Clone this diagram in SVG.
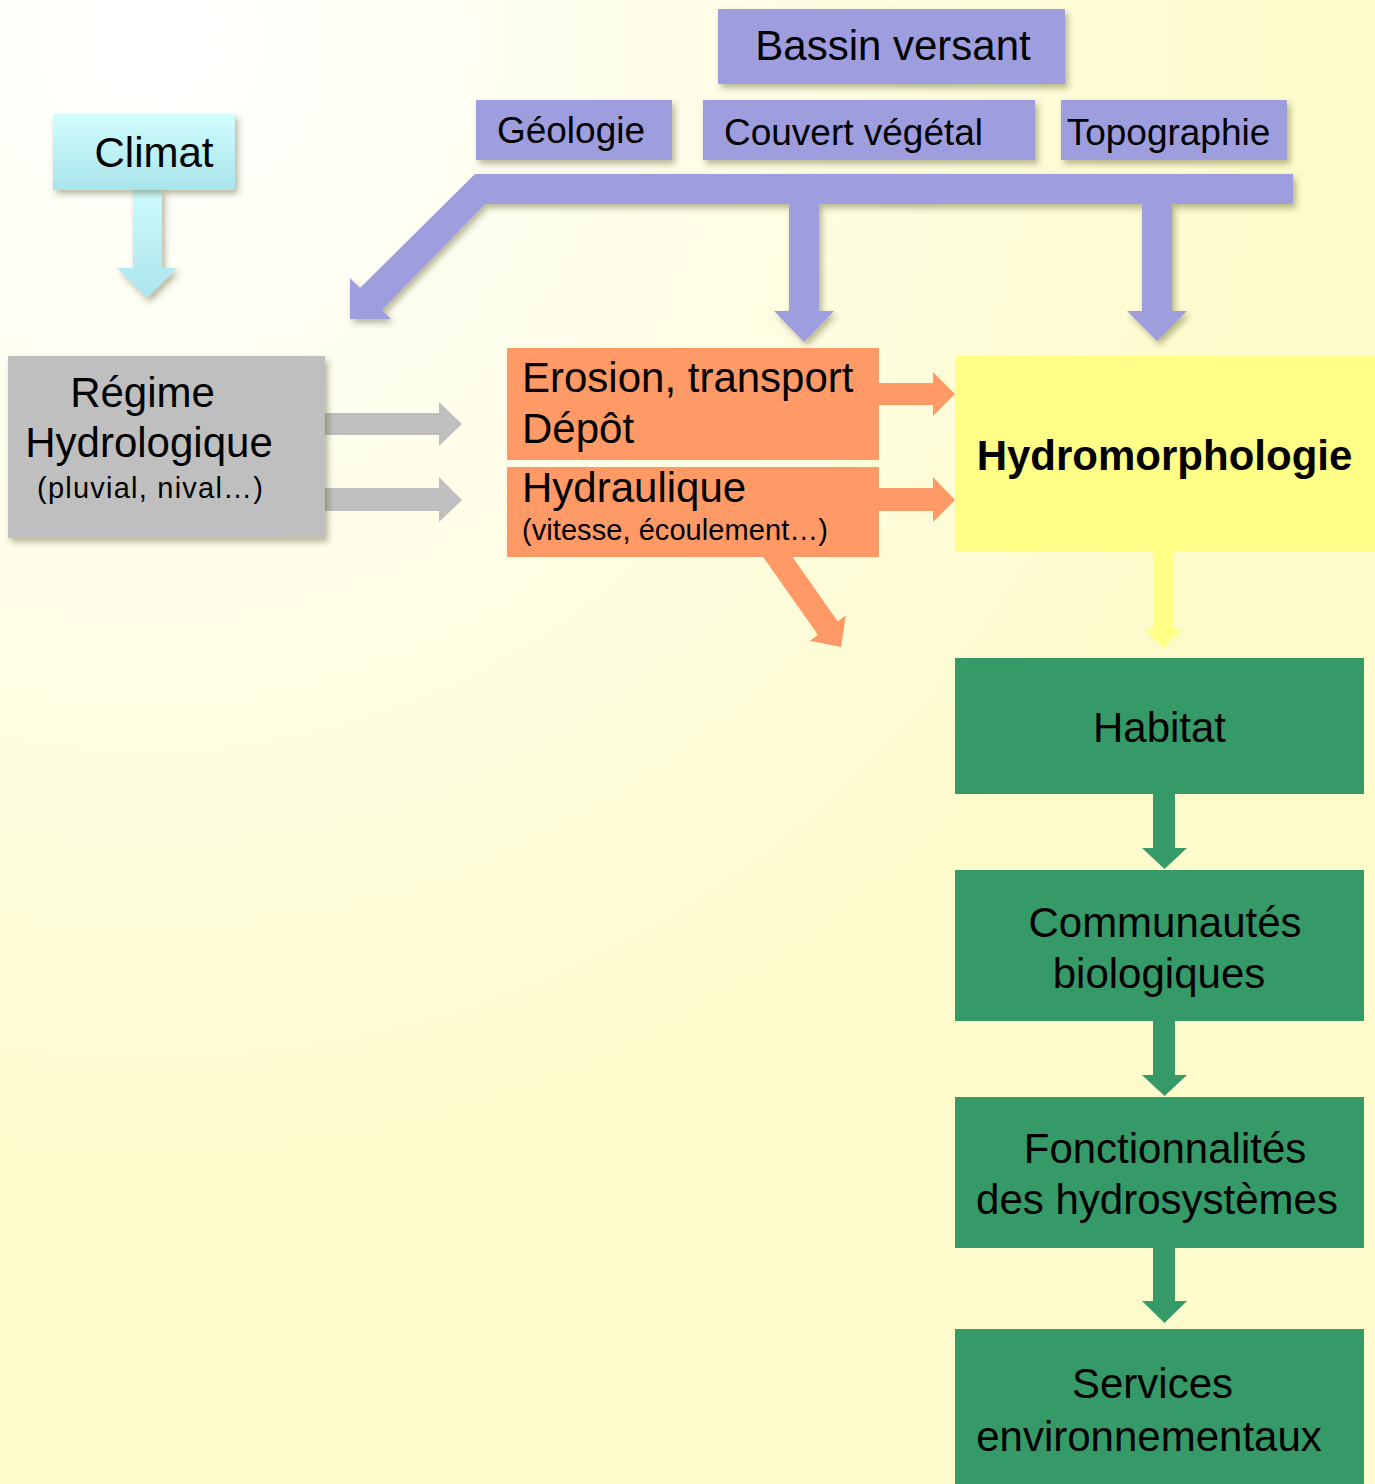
<svg xmlns="http://www.w3.org/2000/svg" width="1375" height="1484" viewBox="0 0 1375 1484">
<defs>
<radialGradient id="bg" gradientUnits="userSpaceOnUse" cx="150" cy="40" r="1150">
<stop offset="0" stop-color="#ffffff"/>
<stop offset="0.45" stop-color="#fefeea"/>
<stop offset="1" stop-color="#fdfbcb"/>
</radialGradient>
<linearGradient id="cyan" x1="0" y1="0" x2="0" y2="1">
<stop offset="0" stop-color="#d2fdfe"/>
<stop offset="1" stop-color="#a8e4ea"/>
</linearGradient>
<linearGradient id="cyanArrow" x1="0" y1="0" x2="0" y2="1">
<stop offset="0" stop-color="#cdfbfd"/>
<stop offset="1" stop-color="#abe5eb"/>
</linearGradient>
<filter id="sh" x="-20%" y="-20%" width="140%" height="140%">
<feDropShadow dx="3" dy="4" stdDeviation="3" flood-color="#333300" flood-opacity="0.35"/>
</filter>
<style>
text{font-family:"Liberation Sans",Arial,sans-serif;fill:#000;}
.t41{font-size:42px;}
.t37{font-size:37px;}
.t28{font-size:29px;}
.c{text-anchor:middle;}
.purple{fill:#9e9edf;}
.gray{fill:#bfbfbf;}
.orange{fill:#ff9966;}
.yellow{fill:#ffff88;}
.green{fill:#359a68;}
</style>
</defs>
<rect x="0" y="0" width="1375" height="1484" fill="url(#bg)"/>

<g id="connectors">
<polygon class="purple" filter="url(#sh)" points="475,174 1293,174 1293,204 1172,204 1172,311 1187,311 1157,341 1127,311 1142,311 1142,204 819,204 819,311 834,311 804,342 774,311 789,311 789,204 485,204 382,310 391,319 350,319 350,278 360,288"/>
<polygon fill="url(#cyanArrow)" filter="url(#sh)" points="133,190 162,190 162,268 177,268 147,298 117,268 133,268"/>
<polygon class="gray" points="325,413 439,413 439,402 462,424 439,446 439,435 325,435"/>
<polygon class="gray" points="325,488 439,488 439,477 462,500 439,522 439,511 325,511"/>
<polygon class="orange" points="879,383 933,383 933,372 955,394 933,416 933,405 879,405"/>
<polygon class="orange" points="879,488 933,488 933,477 955,500 933,522 933,511 879,511"/>
<polygon class="orange" points="780.3,539.5 837.6,621.3 845.8,615.6 841,647 809.8,640.8 818,635.1 760.7,553.3"/>
<polygon class="yellow" points="1153,551 1173,551 1173,630 1182,630 1163.5,648 1145,630 1153,630"/>
<polygon class="green" points="1153,794 1175,794 1175,848 1187,848 1164.5,869 1142,848 1153,848"/>
<polygon class="green" points="1153,1021 1175,1021 1175,1075 1187,1075 1164.5,1096 1142,1075 1153,1075"/>
<polygon class="green" points="1153,1248 1175,1248 1175,1301 1187,1301 1164.5,1323 1142,1301 1153,1301"/>
</g>

<g id="climat">
<rect x="53" y="114" width="182" height="76" fill="url(#cyan)" filter="url(#sh)"/>
<text class="t41 c" x="154" y="167">Climat</text>
</g>

<g id="bassin-versant">
<rect class="purple" x="718" y="9" width="347" height="75" filter="url(#sh)"/>
<text class="t41 c" x="893" y="60">Bassin versant</text>
</g>

<g id="geologie">
<rect class="purple" x="476" y="100" width="196" height="60" filter="url(#sh)"/>
<text class="t37 c" x="571" y="143">Géologie</text>
</g>

<g id="couvert-vegetal">
<rect class="purple" x="703" y="100" width="332" height="60" filter="url(#sh)"/>
<text class="t37 c" x="853.5" y="145">Couvert végétal</text>
</g>

<g id="topographie">
<rect class="purple" x="1061" y="100" width="226" height="60" filter="url(#sh)"/>
<text class="t37 c" x="1168.5" y="145">Topographie</text>
</g>

<g id="regime-hydrologique">
<rect class="gray" x="8" y="356" width="317" height="182" filter="url(#sh)"/>
<text class="t41 c" x="142.5" y="407">Régime</text>
<text class="t41 c" x="149" y="457">Hydrologique</text>
<text class="t28" x="37" y="498" textLength="226" lengthAdjust="spacing">(pluvial, nival…)</text>
</g>

<g id="erosion">
<rect class="orange" x="507" y="348" width="372" height="112"/>
<text class="t41" x="522" y="392">Erosion, transport</text>
<text class="t41" x="522" y="443">Dépôt</text>
</g>

<g id="hydraulique">
<rect class="orange" x="507" y="467" width="372" height="90"/>
<text class="t41" x="522" y="502">Hydraulique</text>
<text class="t28" x="522" y="540" textLength="306" lengthAdjust="spacing">(vitesse, écoulement…)</text>
</g>

<g id="hydromorphologie">
<rect class="yellow" x="955" y="356" width="420" height="195"/>
<text class="t41 c" x="1164.5" y="470" font-weight="bold">Hydromorphologie</text>
</g>

<g id="habitat">
<rect class="green" x="955" y="658" width="409" height="136"/>
<text class="t41 c" x="1159.5" y="742">Habitat</text>
</g>

<g id="communautes">
<rect class="green" x="955" y="870" width="409" height="151"/>
<text class="t41 c" x="1165" y="937">Communautés</text>
<text class="t41 c" x="1159" y="988">biologiques</text>
</g>

<g id="fonctionnalites">
<rect class="green" x="955" y="1097" width="409" height="151"/>
<text class="t41 c" x="1165" y="1163">Fonctionnalités</text>
<text class="t41 c" x="1157" y="1214">des hydrosystèmes</text>
</g>

<g id="services">
<rect class="green" x="955" y="1329" width="409" height="155"/>
<text class="t41 c" x="1152.5" y="1398">Services</text>
<text class="t41 c" x="1149" y="1451">environnementaux</text>
</g>
</svg>
